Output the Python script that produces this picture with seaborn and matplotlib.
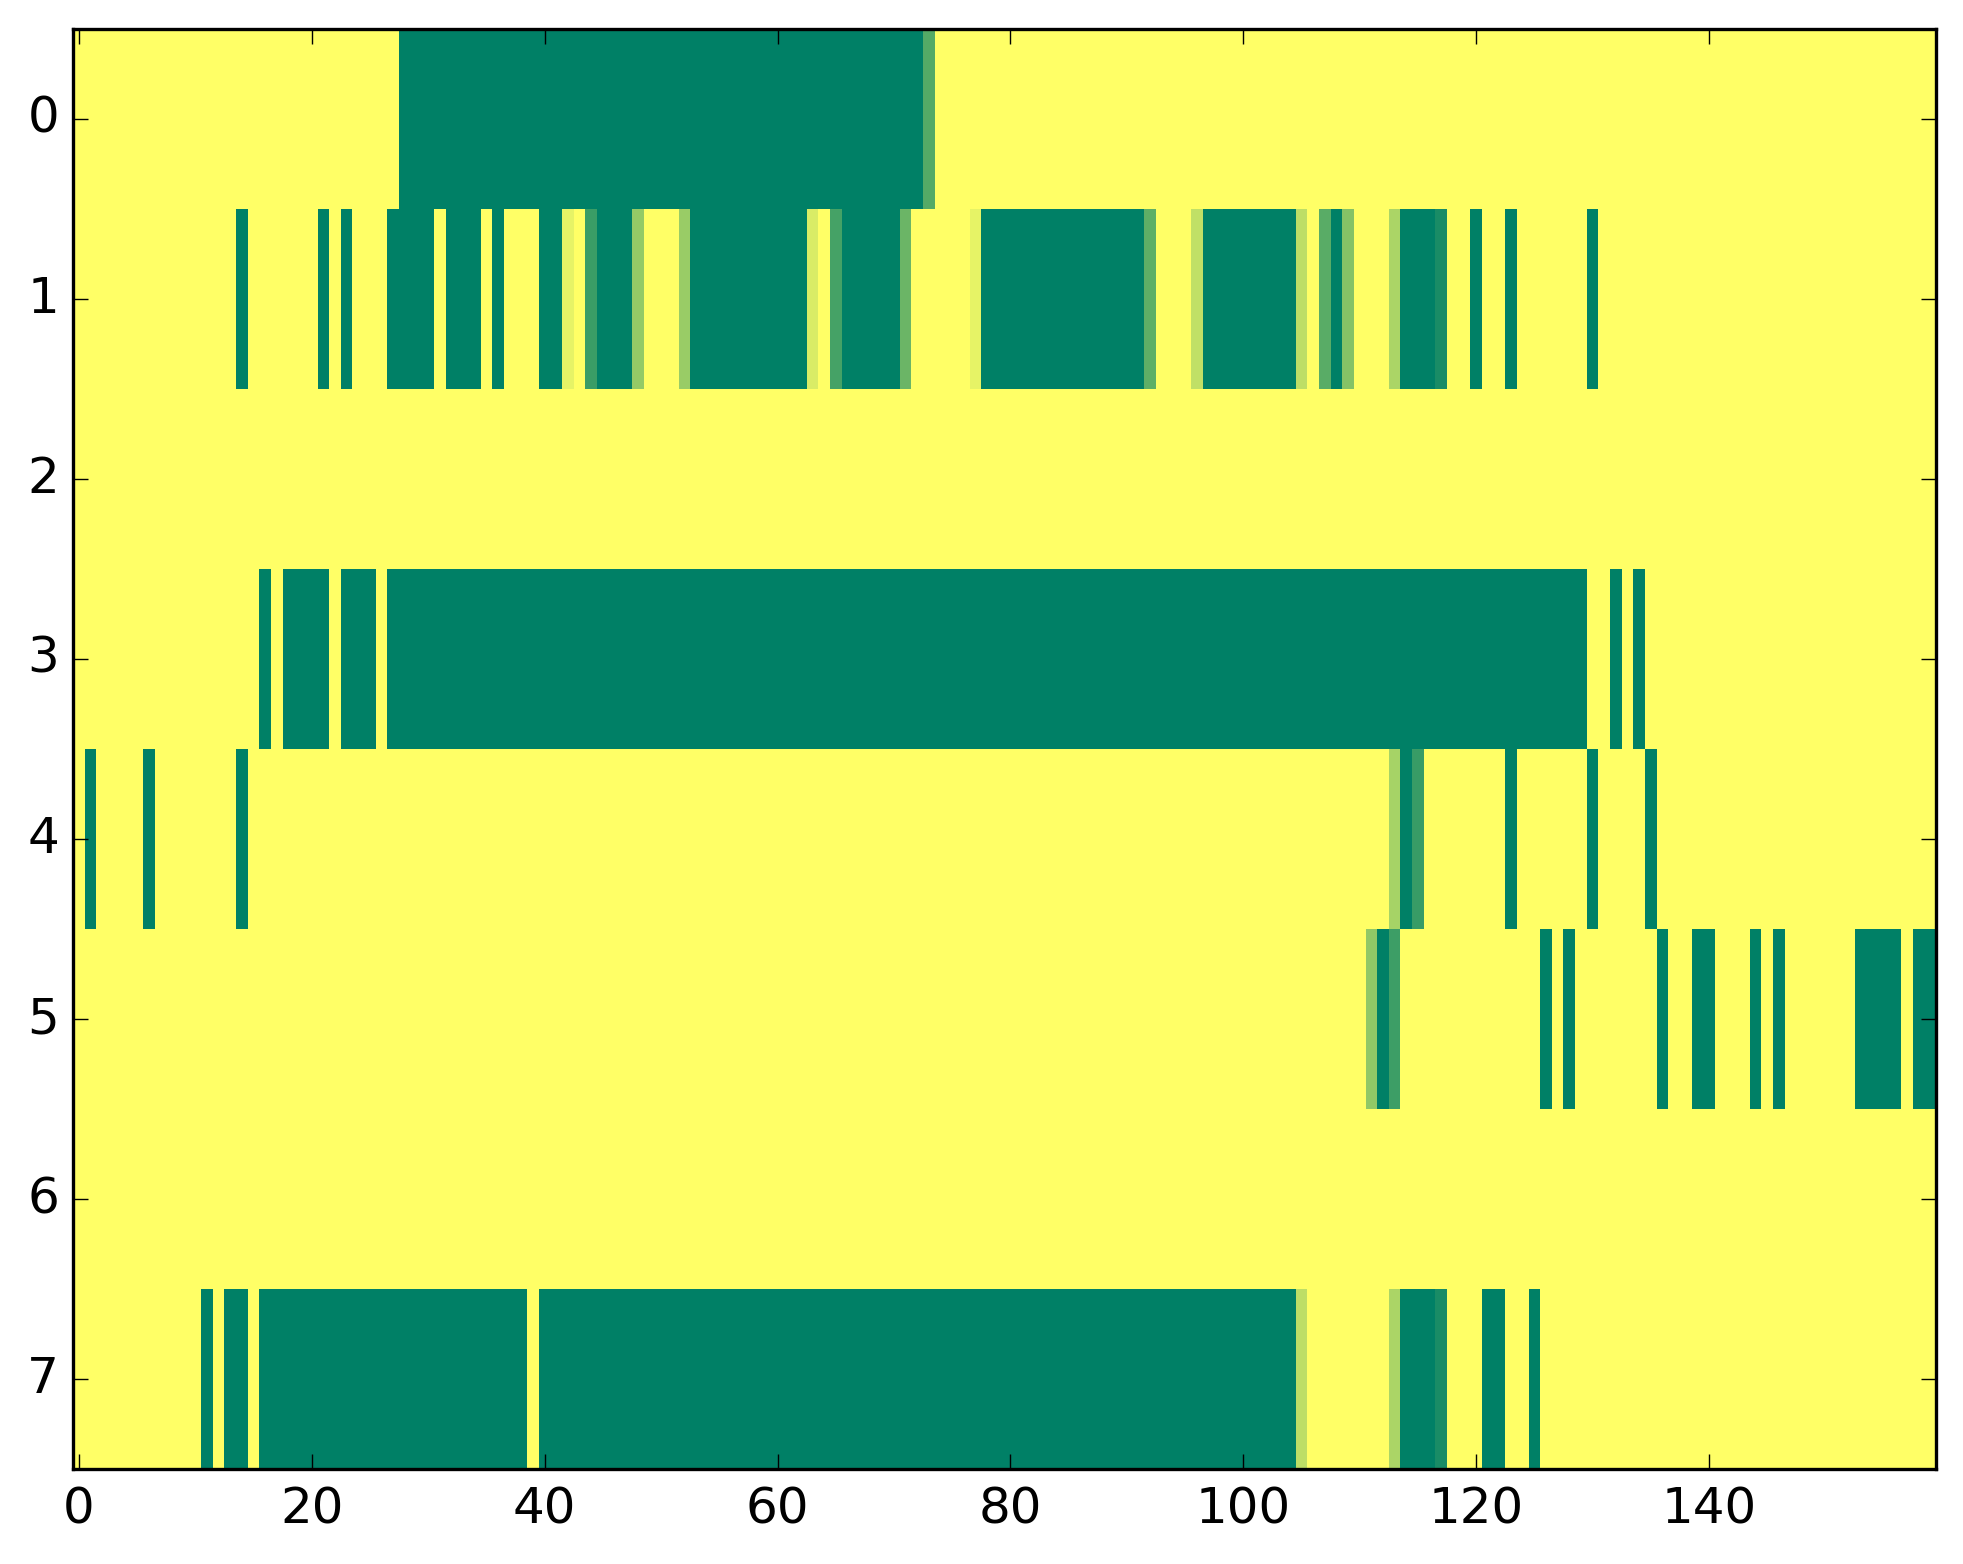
import numpy as np
import matplotlib
matplotlib.use("Agg")
import matplotlib.pyplot as plt
import seaborn as sns

n_rows, n_cols = 8, 160

# green runs (value 0), inclusive column spans, per row
green_runs = [
    [(28, 72)],
    [(14, 14), (21, 21), (23, 23), (27, 30), (32, 34), (36, 36), (40, 41),
     (45, 47), (53, 62), (66, 70), (78, 91), (97, 104), (108, 108),
     (114, 116), (120, 120), (123, 123), (130, 130)],
    [],
    [(16, 16), (18, 21), (23, 25), (27, 129), (132, 132), (134, 134)],
    [(1, 1), (6, 6), (14, 14), (114, 114), (123, 123), (130, 130), (135, 135)],
    [(112, 112), (126, 126), (128, 128), (136, 136), (139, 140), (144, 144),
     (146, 146), (153, 156), (158, 159)],
    [],
    [(11, 11), (13, 14), (16, 38), (40, 104), (114, 116), (121, 122), (125, 125)],
]

# in-between cells (column: value)
partial_cells = [
    {73: 0.33},
    {42: 0.9, 44: 0.23, 48: 0.58, 52: 0.6, 63: 0.85, 65: 0.27, 71: 0.42,
     77: 0.9, 92: 0.37, 96: 0.75, 105: 0.74, 107: 0.35, 109: 0.52,
     113: 0.67, 117: 0.1},
    {},
    {},
    {113: 0.65, 115: 0.22},
    {111: 0.57, 113: 0.24},
    {},
    {105: 0.74, 113: 0.67, 117: 0.1},
]

x_ticks = [0, 20, 40, 60, 80, 100, 120, 140]

# build the matrix: yellow (1) everywhere, then fill in
grid = np.ones((n_rows, n_cols))
for r, runs in enumerate(green_runs):
    for a, b in runs:
        grid[r, a:b + 1] = 0.0
    for c, v in partial_cells[r].items():
        grid[r, c] = v

fig = plt.figure(figsize=(9.815, 7.82), dpi=200)
ax = fig.add_axes([0.0372, 0.0607, 0.9491, 0.9208])
sns.heatmap(grid, cmap="summer", vmin=0, vmax=1, cbar=False, ax=ax)

ax.set_xticks([t + 0.5 for t in x_ticks])
ax.set_xticklabels([str(t) for t in x_ticks], rotation=0)
ax.set_yticks([r + 0.5 for r in range(n_rows)])
ax.set_yticklabels([str(r) for r in range(n_rows)], rotation=0)

for s in ax.spines.values():
    s.set_visible(True)
    s.set_linewidth(1.2)
    s.set_color("black")

ax.tick_params(direction="in", top=True, right=True, length=5.5, width=0.5,
               labelsize=18, colors="black")
ax.tick_params(axis="y", pad=5)
ax.tick_params(axis="x", pad=6)

fig.savefig("out.png", dpi=200)
